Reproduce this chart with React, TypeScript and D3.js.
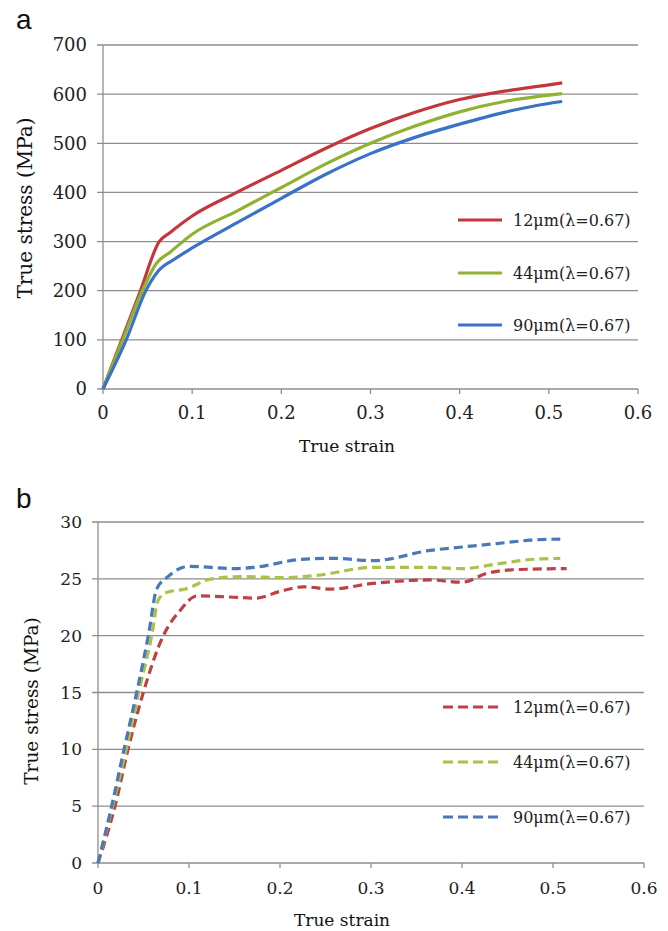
import React from "react";
import * as d3 from "d3";

// ---- Data (panel a) ----
const strainA12 = [0, 0.021, 0.042, 0.063, 0.075, 0.1, 0.15, 0.2, 0.25, 0.3, 0.35, 0.4, 0.45, 0.5, 0.515];
const stressA12 = [0, 100, 200, 300, 318, 352, 400, 445, 490, 530, 563, 589, 606, 619, 623];
const strainA44 = [0, 0.022, 0.044, 0.06, 0.075, 0.1, 0.15, 0.2, 0.25, 0.3, 0.35, 0.4, 0.45, 0.5, 0.515];
const stressA44 = [0, 100, 200, 256, 278, 315, 362, 410, 458, 500, 535, 564, 585, 598, 601];
const strainA90 = [0, 0.026, 0.048, 0.062, 0.08, 0.1, 0.15, 0.2, 0.25, 0.3, 0.35, 0.4, 0.45, 0.5, 0.515];
const stressA90 = [0, 100, 200, 240, 264, 287, 338, 388, 437, 479, 512, 539, 563, 581, 585];

// ---- Data (panel b) ----
const strainB12 = [0, 0.0187, 0.033, 0.0498, 0.0718, 0.09, 0.109, 0.145, 0.174, 0.2, 0.226, 0.256, 0.302, 0.365, 0.4, 0.428, 0.456, 0.515];
const stressB12 = [0, 5, 10, 15, 20, 22.2, 23.5, 23.4, 23.3, 23.9, 24.3, 24.1, 24.6, 24.9, 24.7, 25.5, 25.8, 25.9];
const strainB44 = [0, 0.016, 0.031, 0.0447, 0.059, 0.066, 0.075, 0.096, 0.125, 0.162, 0.2, 0.24, 0.302, 0.365, 0.4, 0.438, 0.475, 0.508];
const stressB44 = [0, 5, 10, 15, 20, 23.1, 23.8, 24.1, 25.0, 25.2, 25.1, 25.3, 26.0, 26.0, 25.9, 26.3, 26.7, 26.8];
const strainB90 = [0, 0.015, 0.0286, 0.0425, 0.0553, 0.0645, 0.077, 0.0995, 0.149, 0.171, 0.222, 0.259, 0.302, 0.365, 0.4, 0.438, 0.475, 0.508];
const stressB90 = [0, 5, 10, 15, 20, 24.1, 25.2, 26.1, 25.9, 26.0, 26.7, 26.8, 26.6, 27.5, 27.8, 28.1, 28.4, 28.5];

const seriesLabels = ["12μm(λ=0.67)", "44μm(λ=0.67)", "90μm(λ=0.67)"];
const xTicks = [0, 0.1, 0.2, 0.3, 0.4, 0.5, 0.6];
const yTicksA = [0, 100, 200, 300, 400, 500, 600, 700];
const yTicksB = [0, 5, 10, 15, 20, 25, 30];

const colorsA = ["#c5363a", "#8fb232", "#3a72c8"];
const colorsB = ["#bf4045", "#a9c24a", "#4a78b8"];

const serif = "'DejaVu Serif', serif";
const grid = "#8e8e8e";

type Panel = {
  letter: string;
  letterY: number;
  x0: number; x1: number;
  yTop: number; yBot: number;
  yMax: number;
  yTicks: number[];
  series: { xs: number[]; ys: number[] }[];
  colors: string[];
  dashed: boolean;
  tickFont: number;
  yTickRight: number;
  xTickBase: number;
  xTitleX: number;
  xTitleBase: number;
  yTitleX: number;
  yTitleY: number;
  yTitleFont: number;
  legX0: number; legX1: number; legText: number;
  legY: number[];
};

function ChartPanel({ p }: { p: Panel }) {
  const x = d3.scaleLinear().domain([0, 0.6]).range([p.x0, p.x1]);
  const y = d3.scaleLinear().domain([0, p.yMax]).range([p.yBot, p.yTop]);
  const line = d3
    .line<[number, number]>()
    .x((d) => x(d[0]))
    .y((d) => y(d[1]))
    .curve(d3.curveMonotoneX);
  return (
    <g>
      <text x={16} y={p.letterY} fontFamily="'Liberation Sans', Arial, sans-serif" fontSize={28} fill="#111">
        {p.letter}
      </text>
      {p.yTicks.map((t) => (
        <g key={"gy" + t}>
          <line x1={p.x0 - 6} x2={p.x1} y1={y(t)} y2={y(t)} stroke={grid} strokeWidth={1.3} />
          <text
            x={p.yTickRight}
            y={y(t)}
            dy="0.36em"
            textAnchor="end"
            fontFamily={serif}
            fontSize={p.tickFont}
            fill="#222"
          >
            {t}
          </text>
        </g>
      ))}
      <line x1={p.x0} x2={p.x0} y1={p.yTop} y2={p.yBot} stroke={grid} strokeWidth={1.3} />
      {xTicks.map((t) => (
        <g key={"gx" + t}>
          <line x1={x(t)} x2={x(t)} y1={p.yBot} y2={p.yBot + 5} stroke={grid} strokeWidth={1.3} />
          <text
            x={x(t)}
            y={p.xTickBase}
            textAnchor="middle"
            fontFamily={serif}
            fontSize={p.tickFont}
            fill="#222"
          >
            {t}
          </text>
        </g>
      ))}
      <text
        x={p.xTitleX}
        y={p.xTitleBase}
        textAnchor="middle"
        fontFamily={serif}
        fontSize={17}
        fill="#111"
      >
        True strain
      </text>
      <text
        transform={`translate(${p.yTitleX},${p.yTitleY}) rotate(-90)`}
        textAnchor="middle"
        dy="0.35em"
        fontFamily={serif}
        fontSize={p.yTitleFont}
        fill="#111"
      >
        True stress (MPa)
      </text>
      {p.series.map((s, i) => (
        <path
          key={"s" + i}
          d={line(s.xs.map((v, k) => [v, s.ys[k]] as [number, number])) || ""}
          fill="none"
          stroke={p.colors[i]}
          strokeWidth={3.2}
          strokeDasharray={p.dashed ? "9 5" : undefined}
          strokeLinecap="butt"
        />
      ))}
      {seriesLabels.map((lab, i) => (
        <g key={"l" + i}>
          <line
            x1={p.legX0}
            x2={p.legX1}
            y1={p.legY[i]}
            y2={p.legY[i]}
            stroke={p.colors[i]}
            strokeWidth={3.2}
            strokeDasharray={p.dashed ? "10 5" : undefined}
          />
          <text
            x={p.legText}
            y={p.legY[i]}
            dy="0.35em"
            fontFamily={serif}
            fontSize={16}
            fill="#222"
          >
            {lab}
          </text>
        </g>
      ))}
    </g>
  );
}

export default function App() {
  const panelA: Panel = {
    letter: "a",
    letterY: 29,
    x0: 103, x1: 638,
    yTop: 45, yBot: 389,
    yMax: 700,
    yTicks: yTicksA,
    series: [
      { xs: strainA12, ys: stressA12 },
      { xs: strainA44, ys: stressA44 },
      { xs: strainA90, ys: stressA90 },
    ],
    colors: colorsA,
    dashed: false,
    tickFont: 18,
    yTickRight: 87,
    xTickBase: 419,
    xTitleX: 347,
    xTitleBase: 452,
    yTitleX: 25,
    yTitleY: 208,
    yTitleFont: 20,
    legX0: 458, legX1: 502, legText: 513,
    legY: [220, 273, 325],
  };
  const panelB: Panel = {
    letter: "b",
    letterY: 508,
    x0: 98, x1: 644,
    yTop: 522, yBot: 863,
    yMax: 30,
    yTicks: yTicksB,
    series: [
      { xs: strainB12, ys: stressB12 },
      { xs: strainB44, ys: stressB44 },
      { xs: strainB90, ys: stressB90 },
    ],
    colors: colorsB,
    dashed: true,
    tickFont: 17,
    yTickRight: 82,
    xTickBase: 894,
    xTitleX: 342,
    xTitleBase: 926,
    yTitleX: 32,
    yTitleY: 701,
    yTitleFont: 18.5,
    legX0: 443, legX1: 500, legText: 513,
    legY: [707, 762, 817],
  };
  return (
    <svg
      width={668}
      height={931}
      style={{ position: "absolute", left: 0, top: 0, background: "#fff" }}
    >
      <rect width={668} height={931} fill="#fff" />
      <ChartPanel p={panelA} />
      <ChartPanel p={panelB} />
    </svg>
  );
}
